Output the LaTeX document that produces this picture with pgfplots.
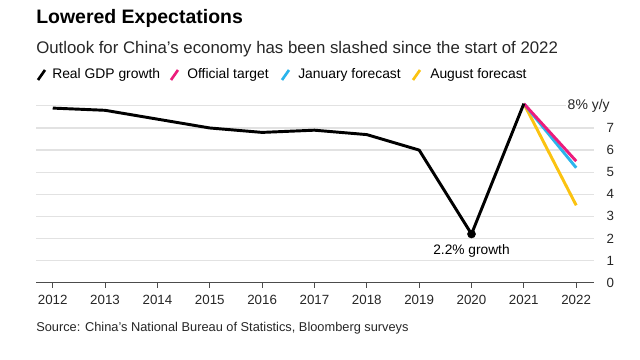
\documentclass[border=0pt]{standalone}
\usepackage{fontspec}
\setmainfont{Liberation Sans}
\usepackage{pgfplots}
\pgfplotsset{compat=1.18}
\definecolor{pinkc}{HTML}{EC1C7C}
\definecolor{bluec}{HTML}{2BB4EC}
\definecolor{yellowc}{HTML}{FBC311}
\definecolor{gridc}{HTML}{E2E2E2}
\begin{document}
\begin{tikzpicture}
\begin{scope}[x=0.75pt,y=0.75pt]
\path[use as bounding box] (0,0) rectangle (640,360);
\node[anchor=west,inner sep=0,font=\fontsize{14.6}{16}\selectfont\bfseries] at (36,360-18) {Lowered Expectations};
\node[anchor=west,inner sep=0,font=\fontsize{12.6}{14}\selectfont,text=black!85] at (36,360-49) {Outlook for China's economy has been slashed since the start of 2022};
\begin{scope}[font=\fontsize{10.4}{12}\selectfont]
\draw[line width=2pt,black] (38,360-80) -- (45,360-70);
\node[anchor=west,inner sep=0] at (52,360-75) {Real GDP growth};
\draw[line width=2pt,pinkc] (171,360-80) -- (178,360-70);
\node[anchor=west,inner sep=0] at (187,360-75) {Official target};
\draw[line width=2pt,bluec] (282,360-80) -- (289,360-70);
\node[anchor=west,inner sep=0] at (298,360-75) {January forecast};
\draw[line width=2pt,yellowc] (413,360-80) -- (420,360-70);
\node[anchor=west,inner sep=0] at (430,360-75) {August forecast};
\end{scope}
\node[anchor=west,inner sep=0,font=\fontsize{9.6}{11}\selectfont,text=black!85] at (36,360-328) {Source: China's National Bureau of Statistics, Bloomberg surveys};
\end{scope}
\begin{axis}[
  at={(27pt,58pt)}, anchor=south west,
  scale only axis, width=418.5pt, height=135.9pt,
  xmin=2011.68, xmax=2022.34, ymin=0, ymax=8.2,
  clip=false,
  axis x line=bottom, axis y line=right,
  x axis line style={-, black!70, line width=0.8pt},
  y axis line style={draw=none},
  xtick={2012,...,2022},
  xticklabels={2012,2013,2014,2015,2016,2017,2018,2019,2020,2021,2022},
  tick align=outside, major tick length=4pt,
  xtick style={black!70, line width=0.6pt},
  ytick={0,1,...,8},
  yticklabels={0,1,2,3,4,5,6,7,{}},
  ymajorgrids, grid style={gridc, line width=0.9pt},
  ytick style={draw=none},
  yticklabel style={anchor=east, xshift=12.3pt, inner sep=1pt},
  xticklabel style={yshift=-2pt},
  ticklabel style={font=\fontsize{10}{12}\selectfont, text=black!85},
  /pgf/number format/assume math mode=true,
]
\addplot[yellowc, line width=2.2pt] coordinates {(2021,8.1) (2022,3.5)};
\addplot[bluec, line width=2.2pt] coordinates {(2021,8.1) (2022,5.2)};
\addplot[pinkc, line width=2.2pt] coordinates {(2021,8.1) (2022,5.5)};
\addplot[black, line width=2.2pt, line join=round] coordinates {
(2012,7.9) (2013,7.8) (2014,7.4) (2015,7.0) (2016,6.8) (2017,6.9) (2018,6.7) (2019,6.0) (2020,2.2) (2021,8.1)};
\addplot[only marks, mark=*, mark size=3pt, black] coordinates {(2020,2.2)};
\node[anchor=north, font=\fontsize{10.3}{12}\selectfont, inner sep=0] at (axis cs:2020,1.75) {2.2\% growth};
\node[anchor=east, font=\fontsize{10.5}{12}\selectfont, text=black!85, fill=white, inner sep=1.5pt] at ([xshift=13.5pt]axis cs:2022.34,8) {8\% y/y};
\end{axis}
\end{tikzpicture}
\end{document}
